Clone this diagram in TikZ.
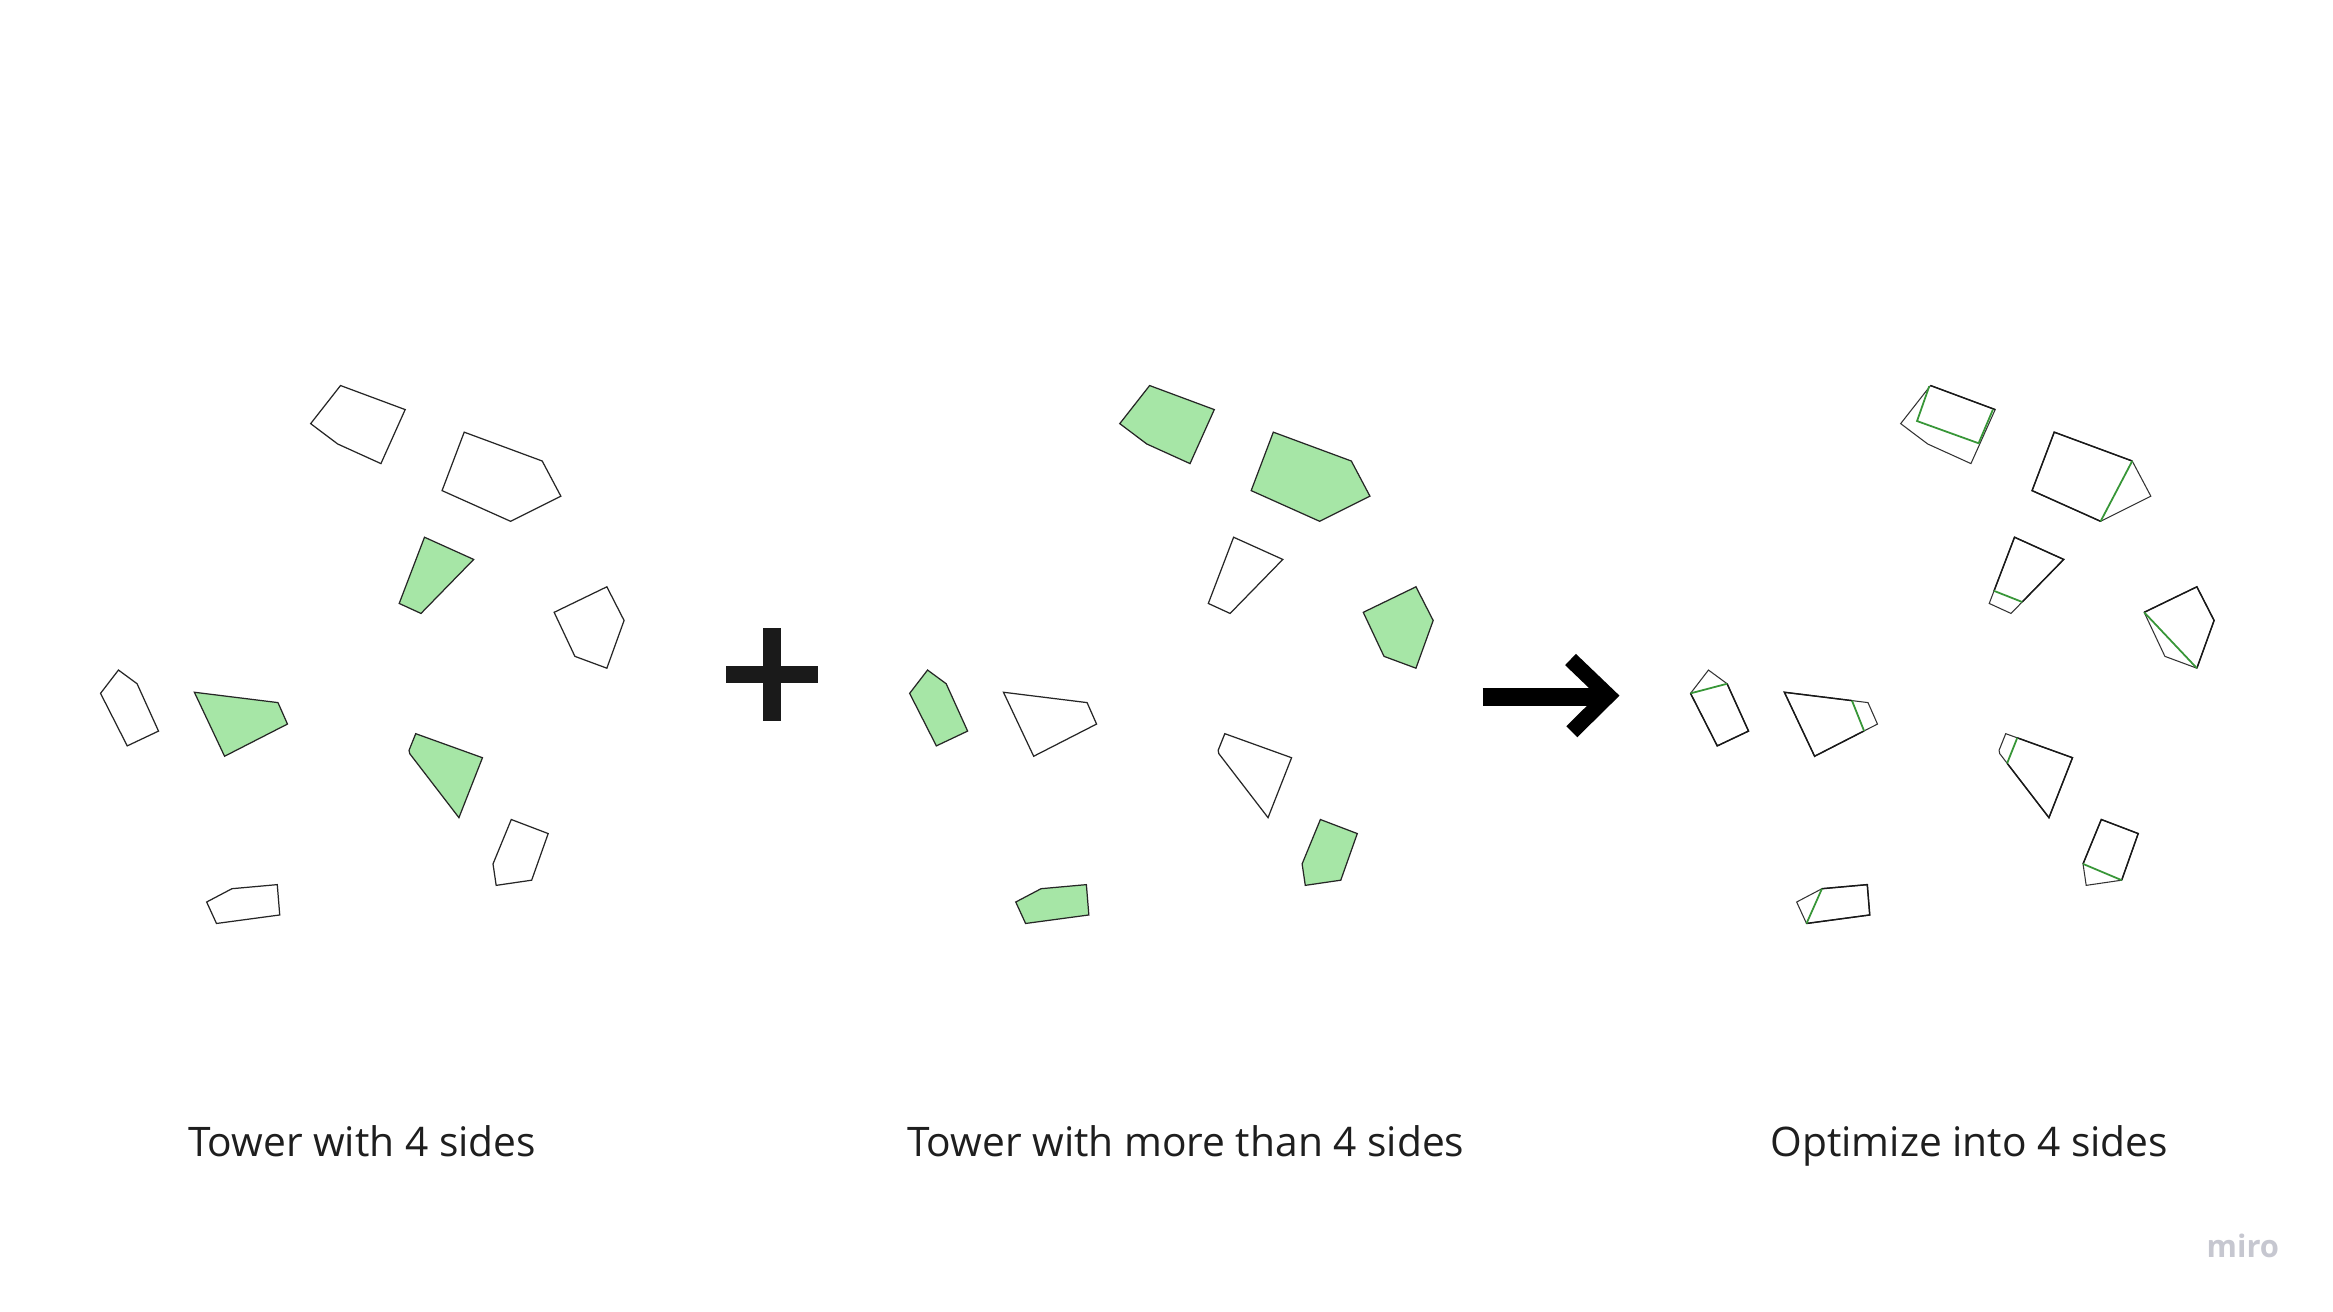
\documentclass[tikz,border=0pt]{standalone}
\usepackage{fontspec}
\setmainfont{Open Sans}
\definecolor{towergreen}{RGB}{166,230,166}
\definecolor{cutgreen}{RGB}{55,150,55}
\definecolor{labelgray}{RGB}{30,30,30}
\definecolor{markgray}{RGB}{26,26,26}
\definecolor{mirogray}{RGB}{198,199,208}
\newcommand\towerset[9]{%
  \draw[#1] (713,42) -- (897,107) -- (828,253) -- (705,200) -- (628,145) -- cycle;
  \draw[#2] (1065,168) -- (1287,246) -- (1340,341) -- (1197,409) -- (1002,326) -- cycle;
  \draw[#3] (952,452) -- (1092,512) -- (942,658) -- (880,631) -- cycle;
  \draw[#4] (1471,586) -- (1520,677) -- (1471,806) -- (1380,774) -- (1321,655) -- cycle;
  \draw[#5] (81,811) -- (134,848) -- (195,976) -- (106,1016) -- (30,874) -- cycle;
  \draw[#6] (297,871) -- (535,899) -- (562,957) -- (383,1044) -- cycle;
  \draw[#7] (927,983) -- (1117,1048) -- (1050,1210) -- (910,1037) -- (908,1028) -- cycle;
  \draw[#8] (1199,1215) -- (1304,1253) -- (1257,1379) -- (1156,1393) -- (1147,1335) -- cycle;
  \draw[#9] (404,1402) -- (533,1391) -- (540,1473) -- (360,1496) -- (332,1438) -- cycle;
}
\begin{document}
\begin{tikzpicture}[x=0.01cm,y=-0.01cm,
  tw/.style={draw=black!85, line width=0.35pt, line join=miter},
  twg/.style={tw, fill=towergreen},
  twthin/.style={draw=black!80, line width=0.3pt, line join=miter},
  quad/.style={draw=black!90, line width=0.42pt, line join=miter},
  cut/.style={draw=cutgreen, line width=0.5pt},
  panel/.style={xscale=0.35137, yscale=0.36996},
  lbl/.style={font=\fontsize{11.58pt}{14pt}\selectfont, text=labelgray, inner sep=0pt, anchor=base}]
\useasboundingbox[fill=white] (0,0) rectangle (2333,1312);

% left panel: towers with 4 sides highlighted
\begin{scope}[shift={(90,370)}, panel]
  \towerset{tw}{tw}{twg}{tw}{tw}{twg}{twg}{tw}{tw}
\end{scope}

% middle panel: towers with more than 4 sides highlighted
\begin{scope}[shift={(899.1,370)}, panel]
  \towerset{twg}{twg}{tw}{twg}{twg}{tw}{tw}{twg}{twg}
\end{scope}

% right panel: optimized into 4 sides
\begin{scope}[shift={(1680,370)}, panel]
  \towerset{twthin}{twthin}{twthin}{twthin}{twthin}{twthin}{twthin}{twthin}{twthin}
  % kept edges of the optimized quadrilaterals
  \draw[quad] (713,42) -- (897,107);
  \draw[quad] (1197,409) -- (1002,326) -- (1065,168) -- (1287,246);
  \draw[quad] (893.7,597) -- (952,452) -- (1092,512) -- (973.8,627);
  \draw[quad] (1321,655) -- (1471,586) -- (1520,677) -- (1471,806);
  \draw[quad] (134,848) -- (195,976) -- (106,1016) -- (30,874);
  \draw[quad] (489.3,893.6) -- (297,871) -- (383,1044) -- (523.9,975.5);
  \draw[quad] (959.8,994.2) -- (1117,1048) -- (1050,1210) -- (931,1063);
  \draw[quad] (1257,1379) -- (1304,1253) -- (1199,1215) -- (1147,1335);
  \draw[quad] (404,1402) -- (533,1391) -- (540,1473) -- (360,1496);
  % new cut edges
  \draw[cut] (709.3,44) -- (674.6,138) -- (849.8,198) -- (890.5,107);
  \draw[cut] (1287,246) -- (1197,409);
  \draw[cut] (893.7,597) -- (973.8,627);
  \draw[cut] (1321,655) -- (1471,806);
  \draw[cut] (30,874) -- (134,848);
  \draw[cut] (489.3,893.6) -- (523.9,975.5);
  \draw[cut] (959.8,994.2) -- (931,1063);
  \draw[cut] (1147,1335) -- (1257,1379);
  \draw[cut] (404,1402) -- (360,1496);
\end{scope}

% plus sign
\fill[markgray] (763.3,628.3) rectangle (780.7,720.7);
\fill[markgray] (725.7,666) rectangle (817.7,683.3);

% arrow
\coordinate (arrowstart) at (1482.7,696.85);
\coordinate (arrowend) at (1606,696.85);
\coordinate (chevtop) at (1570.5,659.5);
\coordinate (chevtip) at (1608.3,695.7);
\coordinate (chevbot) at (1571.8,731.7);
\draw[black, line width=5.2pt] (arrowstart) -- (arrowend);
\draw[black, line width=4.43pt, line join=miter] (chevtop) -- (chevtip) -- (chevbot);

% labels
\node[lbl] (lab1) at (362,1156) {Tower with 4 sides};
\node[lbl] (lab2) at (1185.8,1156) {Tower with more than 4 sides};
\node[lbl] (lab3) at (1969.3,1156) {Optimize into 4 sides};
\node[font=\fontsize{8.8pt}{10pt}\selectfont\bfseries, text=mirogray, inner sep=0pt, anchor=base west] (miro) at (2206,1257) {miro};
\end{tikzpicture}
\end{document}
